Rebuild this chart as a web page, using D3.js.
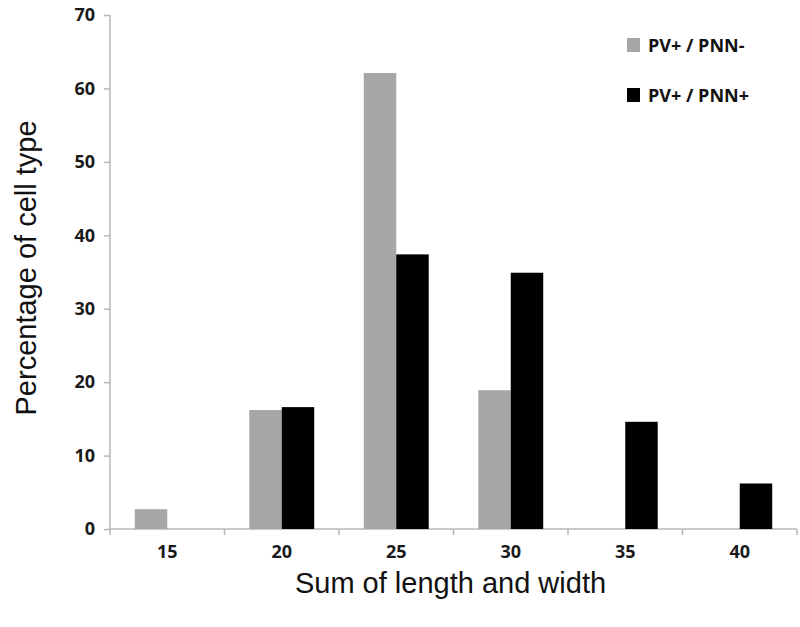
<!DOCTYPE html>
<html>
<head>
<meta charset="utf-8">
<script src="https://cdn.jsdelivr.net/npm/d3@7"></script>
<style>
  body { margin: 0; background: #fff; }
  .tick text { font-family: "Open Sans", sans-serif; font-weight: 700; fill: #1a1a1a; }
</style>
</head>
<body>
<div id="chart"></div>
<script>
// chart data
var categories = ['15', '20', '25', '30', '35', '40'];
var seriesNames = ['PV+ / PNN-', 'PV+ / PNN+'];
var pnnNeg = [2.7, 16.2, 62.1, 18.9, 0, 0];
var pnnPos = [0, 16.6, 37.4, 34.9, 14.6, 6.2];
var yTicks = [0, 10, 20, 30, 40, 50, 60, 70];
var colors = ['#a6a6a6', '#000000'];

var svgWidth = 800;
var svgHeight = 627;

var margin = { top: 15, right: 3, bottom: 98, left: 110 };
var width = svgWidth - margin.left - margin.right;
var height = svgHeight - margin.top - margin.bottom;

var svg = d3.select('#chart')
  .append('svg')
  .attr('width', svgWidth)
  .attr('height', svgHeight);

var chartGroup = svg.append('g')
  .attr('transform', `translate(${margin.left}, ${margin.top})`);

// scales
var x0 = d3.scaleBand()
  .domain(categories)
  .range([0, width])
  .padding(0);

var groupWidth = x0.bandwidth() * 0.567;
var x1 = d3.scaleBand()
  .domain(seriesNames)
  .range([0, groupWidth]);

var y = d3.scaleLinear()
  .domain([0, 70])
  .range([height, 0]);

// axes
var leftAxis = d3.axisLeft(y).tickValues(yTicks).tickSize(6).tickPadding(9);
var bottomAxis = d3.axisBottom(x0).tickSize(6).tickPadding(10);

var yAxisG = chartGroup.append('g').call(leftAxis);
yAxisG.selectAll('text').style('font-size', '18px');

var xAxisG = chartGroup.append('g')
  .attr('transform', `translate(0, ${height})`)
  .call(bottomAxis);
xAxisG.selectAll('text').style('font-size', '18px');

// band boundary ticks instead of centred ones
xAxisG.selectAll('.tick line').attr('x1', x0.bandwidth() / 2).attr('x2', x0.bandwidth() / 2);
xAxisG.append('line')
  .attr('x1', 0).attr('x2', 0)
  .attr('y1', 0).attr('y2', 6)
  .attr('stroke', '#b8b8b8')
  .attr('stroke-width', 1.5);

[yAxisG, xAxisG].forEach(function(g) {
  g.select('.domain').attr('stroke', '#b8b8b8').attr('stroke-width', 1.5);
  g.selectAll('.tick line').attr('stroke', '#b8b8b8').attr('stroke-width', 1.5);
});
yAxisG.select('.domain').attr('d', `M0,${height}V0`);
xAxisG.select('.domain').attr('d', `M0,0H${width}`);

// bars
var rows = categories.map(function(c, i) {
  return { cat: c, values: [
    { key: seriesNames[0], value: pnnNeg[i] },
    { key: seriesNames[1], value: pnnPos[i] }
  ]};
});

var groups = chartGroup.selectAll('.grp')
  .data(rows)
  .enter()
  .append('g')
  .attr('class', 'grp')
  .attr('transform', function(d) {
    return 'translate(' + (x0(d.cat) + (x0.bandwidth() - groupWidth) / 2) + ',0)';
  });

groups.selectAll('rect')
  .data(function(d) { return d.values.filter(function(v) { return v.value > 0; }); })
  .enter()
  .append('rect')
  .attr('x', function(d) { return x1(d.key); })
  .attr('y', function(d) { return y(d.value); })
  .attr('width', x1.bandwidth())
  .attr('height', function(d) { return height - y(d.value); })
  .attr('fill', function(d) { return colors[seriesNames.indexOf(d.key)]; });

// legend
var legend = svg.append('g').attr('transform', 'translate(627, 38)');
seriesNames.forEach(function(name, i) {
  var row = legend.append('g').attr('transform', `translate(0, ${i * 50})`);
  row.append('rect')
    .attr('width', 13).attr('height', 14)
    .attr('fill', colors[i]);
  row.append('text')
    .attr('x', 21).attr('y', 14)
    .style('font-family', '"Open Sans", sans-serif')
    .style('font-weight', 700)
    .style('font-size', '18px')
    .style('fill', '#111')
    .text(name);
});

// axis titles
svg.append('text')
  .attr('x', margin.left + width / 2 - 3)
  .attr('y', 593)
  .attr('text-anchor', 'middle')
  .style('font-family', '"Liberation Sans", Arial, sans-serif')
  .style('font-size', '29px')
  .style('fill', '#111')
  .text('Sum of length and width');

svg.append('text')
  .attr('transform', 'translate(36, 268) rotate(-90)')
  .attr('text-anchor', 'middle')
  .style('font-family', '"Liberation Sans", Arial, sans-serif')
  .style('font-size', '29px')
  .style('fill', '#111')
  .text('Percentage of cell type');
</script>
</body>
</html>
